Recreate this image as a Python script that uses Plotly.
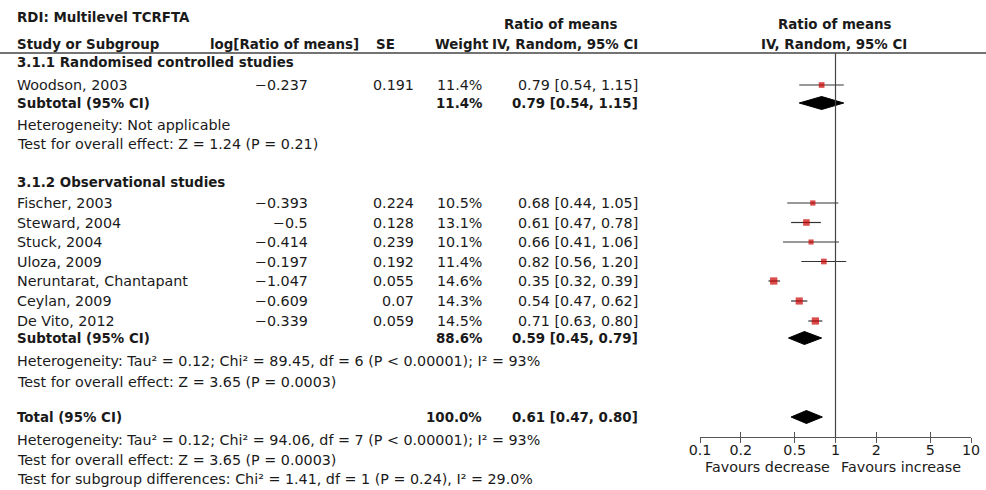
import plotly.graph_objects as go

# ---------------- data ----------------
title_text = "RDI: Multilevel TCRFTA"
group_names = ["3.1.1 Randomised controlled studies", "3.1.2 Observational studies"]

studies = ["Woodson, 2003", "Fischer, 2003", "Steward, 2004", "Stuck, 2004",
           "Uloza, 2009", "Neruntarat, Chantapant", "Ceylan, 2009", "De Vito, 2012"]
study_group = [0, 1, 1, 1, 1, 1, 1, 1]
log_rom = [-0.237, -0.393, -0.5, -0.414, -0.197, -1.047, -0.609, -0.339]
se = [0.191, 0.224, 0.128, 0.239, 0.192, 0.055, 0.07, 0.059]
weight = [11.4, 10.5, 13.1, 10.1, 11.4, 14.6, 14.3, 14.5]
rom = [0.79, 0.68, 0.61, 0.66, 0.82, 0.35, 0.54, 0.71]
ci_low = [0.54, 0.44, 0.47, 0.41, 0.56, 0.32, 0.47, 0.63]
ci_high = [1.15, 1.05, 0.78, 1.06, 1.20, 0.39, 0.62, 0.80]

pooled_labels = ["Subtotal (95% CI)", "Subtotal (95% CI)", "Total (95% CI)"]
pooled_weight = [11.4, 88.6, 100.0]
pooled_rom = [0.79, 0.59, 0.61]
pooled_low = [0.54, 0.45, 0.47]
pooled_high = [1.15, 0.79, 0.80]

stats_lines = [
    ["Heterogeneity: Not applicable",
     "Test for overall effect: Z = 1.24 (P = 0.21)"],
    ["Heterogeneity: Tau² = 0.12; Chi² = 89.45, df = 6 (P < 0.00001); I² = 93%",
     "Test for overall effect: Z = 3.65 (P = 0.0003)"],
    ["Heterogeneity: Tau² = 0.12; Chi² = 94.06, df = 7 (P < 0.00001); I² = 93%",
     "Test for overall effect: Z = 3.65 (P = 0.0003)",
     "Test for subgroup differences: Chi² = 1.41, df = 1 (P = 0.24), I² = 29.0%"],
]

tick_values = [0.1, 0.2, 0.5, 1, 2, 5, 10]
tick_labels = ["0.1", "0.2", "0.5", "1", "2", "5", "10"]
favours_left = "Favours decrease"
favours_right = "Favours increase"

# ---------------- layout (pixel rows, y axis in px from top) ----------------
W, H = 986, 490
study_y = [85, 203, 222.5, 242, 261.5, 281, 301, 321]
group_y = [62, 182]
pooled_y = [103, 338, 417]
stats_y = [[125, 144], [361, 382], [440, 460, 479]]
header_line_y = 53
axis_y = 437

X_NAME = 15 / W
X_LOG = 310 / W
X_SE = 416 / W
X_W = 484 / W
X_CI = 640 / W

TXT = "#1a1a1a"
FONT = "DejaVu Sans"
REG = 14.3
BOLD = 13.4

ann = []


def add_text(x, y, text, anchor="left", bold=False, size=None):
    if size is None:
        size = BOLD if bold else REG
    ann.append(dict(x=x, y=y, xref="paper", yref="y", text=(f"<b>{text}</b>" if bold else text),
                    showarrow=False, xanchor=anchor, yanchor="middle",
                    font=dict(family=FONT, size=size, color=TXT)))


def fmt_num(v):
    return f"{v:g}".replace("-", "\u2212")


def fmt_ci(e, lo, hi):
    return f"{e:.2f} [{lo:.2f}, {hi:.2f}]"


# headers
add_text(X_NAME, 17, title_text, bold=True)
add_text(X_NAME, 44, "Study or Subgroup", bold=True)
add_text(361 / W, 44, "log[Ratio of means]", anchor="right", bold=True)
add_text(385 / W, 44, "SE", anchor="center", bold=True)
add_text(491 / W, 44, "Weight", anchor="right", bold=True)
add_text(560 / W, 24, "Ratio of means", anchor="center", bold=True)
add_text(640 / W, 44, "IV, Random, 95% CI", anchor="right", bold=True)
add_text(834 / W, 24, "Ratio of means", anchor="center", bold=True)
add_text(834 / W, 44, "IV, Random, 95% CI", anchor="center", bold=True)

for g, gy in zip(group_names, group_y):
    add_text(X_NAME, gy, g, bold=True)

for i, name in enumerate(studies):
    y = study_y[i]
    add_text(X_NAME, y, name)
    add_text(X_LOG, y, fmt_num(log_rom[i]), anchor="right")
    add_text(X_SE, y, fmt_num(se[i]), anchor="right")
    add_text(X_W, y, f"{weight[i]:.1f}%", anchor="right")
    add_text(X_CI, y, fmt_ci(rom[i], ci_low[i], ci_high[i]), anchor="right")

for j, lab in enumerate(pooled_labels):
    y = pooled_y[j]
    add_text(X_NAME, y, lab, bold=True)
    add_text(X_W, y, f"{pooled_weight[j]:.1f}%", anchor="right", bold=True)
    add_text(X_CI, y, fmt_ci(pooled_rom[j], pooled_low[j], pooled_high[j]), anchor="right", bold=True)

for lines, ys in zip(stats_lines, stats_y):
    for t, y in zip(lines, ys):
        add_text(X_NAME, y, t)

add_text(767 / W, 467, favours_left, anchor="center")
add_text(901 / W, 467, favours_right, anchor="center")

# ---------------- traces ----------------
fig = go.Figure()

# CI lines
cx, cy = [], []
for lo, hi, y in zip(ci_low, ci_high, study_y):
    cx += [lo, hi, None]
    cy += [y, y, None]
fig.add_trace(go.Scatter(x=cx, y=cy, mode="lines", line=dict(color="#333333", width=1.2),
                         hoverinfo="skip", xaxis="x", yaxis="y"))

# study squares
fig.add_trace(go.Scatter(x=rom, y=study_y, mode="markers",
                         marker=dict(symbol="square", size=[w * 0.5 for w in weight],
                                     color="#CC0000", line=dict(width=0)),
                         hoverinfo="skip", xaxis="x", yaxis="y"))

# diamonds
half_h = 6.5
for e, lo, hi, y in zip(pooled_rom, pooled_low, pooled_high, pooled_y):
    fig.add_trace(go.Scatter(x=[lo, e, hi, e, lo], y=[y, y - half_h, y, y + half_h, y],
                             mode="lines", fill="toself", fillcolor="#000000",
                             line=dict(color="#000000", width=1), hoverinfo="skip",
                             xaxis="x", yaxis="y"))

# dummy trace for second (tick) axis
fig.add_trace(go.Scatter(x=[1], y=[-1000], mode="markers", marker=dict(opacity=0),
                         hoverinfo="skip", xaxis="x2", yaxis="y"))

axis_pos = (H - axis_y) / H
xdom = [700 / W, 971 / W]

fig.update_layout(
    width=W, height=H, autosize=False,
    margin=dict(l=0, r=0, t=0, b=0, pad=0, autoexpand=False),
    paper_bgcolor="white", plot_bgcolor="rgba(0,0,0,0)",
    showlegend=False,
    annotations=ann,
    xaxis=dict(type="log", range=[-1, 1], domain=xdom, anchor="free", position=axis_pos,
               showline=True, linecolor="#555555", linewidth=1.3,
               ticks="inside", ticklen=5, tickwidth=1.2, tickcolor="#555555",
               tickvals=tick_values, ticktext=tick_labels,
               tickfont=dict(family=FONT, size=REG, color=TXT), automargin=False,
               showgrid=False, zeroline=False, fixedrange=True),
    xaxis2=dict(type="log", range=[-1, 1], domain=xdom, anchor="free", position=axis_pos,
                overlaying="x", side="bottom", showline=False, automargin=False,
                ticks="outside", ticklen=5, tickwidth=1.2, tickcolor="#555555",
                tickvals=tick_values, showticklabels=False,
                showgrid=False, zeroline=False, fixedrange=True),
    yaxis=dict(range=[H, 0], domain=[0, 1], visible=False, fixedrange=True, automargin=False),
    shapes=[
        dict(type="line", xref="paper", yref="y", x0=0, x1=1, y0=header_line_y, y1=header_line_y,
             line=dict(color="#444444", width=1.5)),
        dict(type="line", xref="x", yref="y", x0=1, x1=1, y0=header_line_y, y1=axis_y,
             line=dict(color="#444444", width=1.2)),
    ],
)

fig.write_html("out.html", config={"responsive": False, "displayModeBar": False})
